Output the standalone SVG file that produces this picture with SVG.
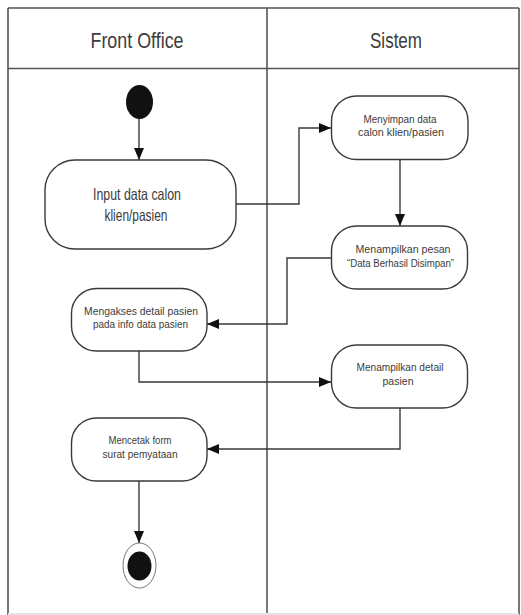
<svg xmlns="http://www.w3.org/2000/svg" width="521" height="615" viewBox="0 0 521 615">
  <style>
    .lane { fill: none; stroke: #555; stroke-width: 1.6; }
    .act { fill: #fff; stroke: #3a3a3a; stroke-width: 1.4; }
    .flow { fill: none; stroke: #3a3a3a; stroke-width: 1.4; marker-end: url(#arrow); }
    text { font-family: "Liberation Sans", Arial, sans-serif; fill: #3c3c3c; text-anchor: middle; }
    .hdr { font-size: 22px; }
    .big { font-size: 16.5px; }
    .sm { font-size: 11px; }
  </style>
  <defs>
    <marker id="arrow" viewBox="0 0 12 10" refX="12" refY="5" markerWidth="12" markerHeight="10" markerUnits="userSpaceOnUse" orient="auto">
      <path d="M0,0 L12,5 L0,10 Z" fill="#111"/>
    </marker>
  </defs>
  <rect width="521" height="615" fill="#fff"/>

  <!-- swimlanes -->
  <g id="lanes">
    <line class="lane" x1="8" y1="8" x2="519" y2="8"/>
    <line class="lane" x1="8" y1="68.5" x2="519" y2="68.5"/>
    <line class="lane" x1="8" y1="8" x2="8" y2="615"/>
    <line class="lane" x1="519" y1="8" x2="519" y2="615"/>
    <line class="lane" x1="267" y1="8" x2="267" y2="615"/>
    <line x1="8" y1="614" x2="519" y2="614" stroke="#e4e4e4" stroke-width="2"/>
    <text class="hdr" x="137" y="48" textLength="93" lengthAdjust="spacingAndGlyphs">Front Office</text>
    <text class="hdr" x="396" y="48" textLength="52" lengthAdjust="spacingAndGlyphs">Sistem</text>
  </g>

  <!-- connectors -->
  <g id="connectors">
    <path class="flow" d="M139,119 V160"/>
    <path class="flow" d="M236,204 H299 V128 H331"/>
    <path class="flow" d="M400,160 V226"/>
    <path class="flow" d="M331,258 H287 V324 H207"/>
    <path class="flow" d="M139,351 V382 H331"/>
    <path class="flow" d="M400,408 V449 H207"/>
    <path class="flow" d="M139,481 V543"/>
  </g>

  <g id="start">
    <ellipse cx="139.5" cy="102" rx="13.5" ry="17" fill="#111"/>
  </g>

  <g id="input-data">
    <rect class="act" x="45" y="160" width="191" height="89" rx="30" ry="30"/>
    <text class="big" x="137" y="200" textLength="88" lengthAdjust="spacingAndGlyphs">Input data calon</text>
    <text class="big" x="136" y="221" textLength="63" lengthAdjust="spacingAndGlyphs">klien/pasien</text>
  </g>

  <g id="menyimpan">
    <rect class="act" x="331.5" y="96" width="136.5" height="63.5" rx="25" ry="25"/>
    <text class="sm" x="400" y="123" textLength="73" lengthAdjust="spacingAndGlyphs">Menyimpan data</text>
    <text class="sm" x="401" y="136" textLength="86" lengthAdjust="spacingAndGlyphs">calon klien/pasien</text>
  </g>

  <g id="pesan">
    <rect class="act" x="331.5" y="226" width="136" height="63" rx="25" ry="25"/>
    <text class="sm" x="403" y="253" textLength="95" lengthAdjust="spacingAndGlyphs">Menampilkan pesan</text>
    <text class="sm" x="400.5" y="267" textLength="107" lengthAdjust="spacingAndGlyphs">“Data Berhasil Disimpan”</text>
  </g>

  <g id="mengakses">
    <rect class="act" x="71.5" y="288.5" width="135.5" height="62.5" rx="25" ry="25"/>
    <text class="sm" x="141" y="315" textLength="114" lengthAdjust="spacingAndGlyphs">Mengakses detail pasien</text>
    <text class="sm" x="140.5" y="328" textLength="95" lengthAdjust="spacingAndGlyphs">pada info data pasien</text>
  </g>

  <g id="detail">
    <rect class="act" x="331.5" y="345" width="136" height="63" rx="25" ry="25"/>
    <text class="sm" x="400" y="371" textLength="87" lengthAdjust="spacingAndGlyphs">Menampilkan detail</text>
    <text class="sm" x="398" y="385" textLength="31" lengthAdjust="spacingAndGlyphs">pasien</text>
  </g>

  <g id="mencetak">
    <rect class="act" x="71.5" y="418" width="135.5" height="63" rx="25" ry="25"/>
    <text class="sm" x="140" y="444" textLength="63" lengthAdjust="spacingAndGlyphs">Mencetak form</text>
    <text class="sm" x="140" y="458" textLength="75" lengthAdjust="spacingAndGlyphs">surat pemyataan</text>
  </g>

  <g id="end">
    <ellipse cx="139.5" cy="565.5" rx="16.5" ry="22.5" fill="#fff" stroke="#777" stroke-width="1"/>
    <ellipse cx="139.5" cy="566" rx="12" ry="14.5" fill="#111"/>
  </g>
</svg>
